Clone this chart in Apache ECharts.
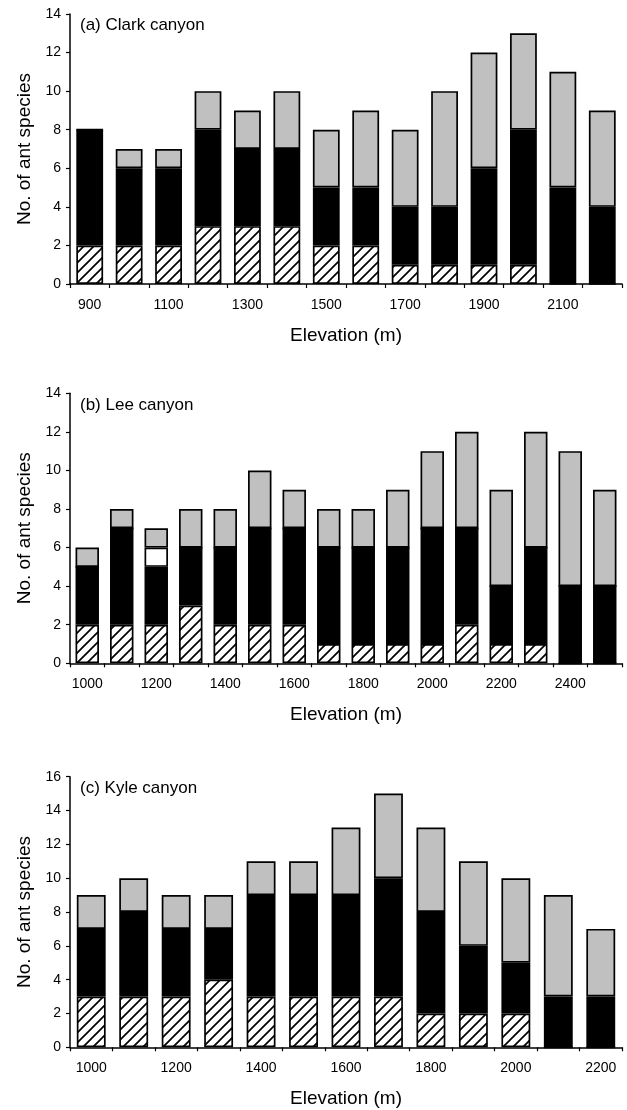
<!DOCTYPE html>
<html>
<head>
<meta charset="utf-8">
<script src="https://cdn.jsdelivr.net/npm/echarts@6/dist/echarts.min.js"></script>
<style>
html,body{margin:0;padding:0;background:#fff;}
#chart{width:627px;height:1110px;}
</style>
</head>
<body>
<div id="chart"></div>
<script>
// ---- Data ----
const clarkElev = ['900','1000','1100','1200','1300','1400','1500','1600','1700','1800','1900','2000','2100','2200'];
const clarkHatched = [2,2,2,3,3,3,2,2,1,1,1,1,0,0];
const clarkBlack   = [6,4,4,5,4,4,3,3,3,3,5,7,5,4];
const clarkGrey    = [0,1,1,2,2,3,3,4,4,6,6,5,6,5];

const leeElev = ['1000','1100','1200','1300','1400','1500','1600','1700','1800','1900','2000','2100','2200','2300','2400','2500'];
const leeHatched = [2,2,2,3,2,2,2,1,1,1,1,2,1,1,0,0];
const leeBlack   = [3,5,3,3,4,5,5,5,5,5,6,5,3,5,4,4];
const leeWhite   = [0,0,1,0,0,0,0,0,0,0,0,0,0,0,0,0];
const leeGrey    = [1,1,1,2,2,3,2,2,2,3,4,5,5,6,7,5];

const kyleElev = ['1000','1100','1200','1300','1400','1500','1600','1700','1800','1900','2000','2100','2200'];
const kyleHatched = [3,3,3,4,3,3,3,3,2,2,2,0,0];
const kyleBlack   = [4,5,4,3,6,6,6,7,6,4,3,3,3];
const kyleGrey    = [2,2,2,2,2,2,4,5,5,5,5,6,4];

const panelTitles = ['(a) Clark canyon','(b) Lee canyon','(c) Kyle canyon'];
const yMax = [14,14,16];

// ---- Hatch pattern ----
function makeHatch(){
  const s = 10;
  const c = document.createElement('canvas');
  c.width = s; c.height = s;
  const g = c.getContext('2d');
  g.fillStyle = '#fff'; g.fillRect(0,0,s,s);
  g.strokeStyle = '#000'; g.lineWidth = 1.7;
  g.beginPath();
  g.moveTo(-1, s+1); g.lineTo(s+1, -1);
  g.moveTo(-2, 2); g.lineTo(2, -2);
  g.moveTo(s-2, s+2); g.lineTo(s+2, s-2);
  g.stroke();
  return c;
}
const hatch = {image: makeHatch(), repeat: 'repeat'};

const FONT = 'Liberation Sans, Arial, Helvetica, sans-serif';
const grids = [
  {left:70, width:552, top:14, height:270},
  {left:70, width:552, top:393.3, height:270},
  {left:70, width:552, top:776.7, height:270.6}
];
const cats = [clarkElev, leeElev, kyleElev];

const xAxes = cats.map((c,i)=>({
  type:'category', gridIndex:i, data:c,
  axisLine:{lineStyle:{color:'#000', width:1.5}},
  axisTick:{show:true, length:4, interval:0, lineStyle:{color:'#000', width:1.2}},
  axisLabel:{interval:1, color:'#000', fontSize:14, fontFamily:FONT, margin:14},
  name:'Elevation (m)', nameLocation:'middle', nameGap:42,
  nameTextStyle:{color:'#000', fontSize:19, fontFamily:FONT}
}));
const yAxes = yMax.map((m,i)=>({
  type:'value', gridIndex:i, min:0, max:m, interval:2,
  axisLine:{show:true, lineStyle:{color:'#000', width:1.5}},
  axisTick:{show:true, length:4, lineStyle:{color:'#000', width:1.2}},
  splitLine:{show:false},
  axisLabel:{color:'#000', fontSize:14, fontFamily:FONT, margin:9},
  name:'No. of ant species', nameLocation:'middle', nameGap:32,
  nameTextStyle:{color:'#000', fontSize:19, fontFamily:FONT}
}));

function seg(name, data, idx, color){
  return {
    type:'bar', name:name, stack:'s'+idx, xAxisIndex:idx, yAxisIndex:idx,
    data:data, barCategoryGap:'32%',
    itemStyle:{color:color, borderColor:'#000', borderWidth:1.7},
    emphasis:{disabled:true}, animation:false
  };
}

const series = [
  seg('hatched', clarkHatched, 0, hatch),
  seg('black', clarkBlack, 0, '#000'),
  seg('grey', clarkGrey, 0, '#c0c0c0'),
  seg('hatched', leeHatched, 1, hatch),
  seg('black', leeBlack, 1, '#000'),
  seg('white', leeWhite, 1, '#fff'),
  seg('grey', leeGrey, 1, '#c0c0c0'),
  seg('hatched', kyleHatched, 2, hatch),
  seg('black', kyleBlack, 2, '#000'),
  seg('grey', kyleGrey, 2, '#c0c0c0')
];

const titleY = [27, 406.7, 790];
const graphics = panelTitles.map((t,i)=>({
  type:'text', left:80, top:titleY[i]-10,
  style:{text:t, fill:'#000', font:'17px '+FONT}
}));

const chart = echarts.init(document.getElementById('chart'), null, {renderer:'canvas'});
chart.setOption({
  animation:false,
  backgroundColor:'#fff',
  grid:grids, xAxis:xAxes, yAxis:yAxes, series:series, graphic:graphics
});
</script>
</body>
</html>
